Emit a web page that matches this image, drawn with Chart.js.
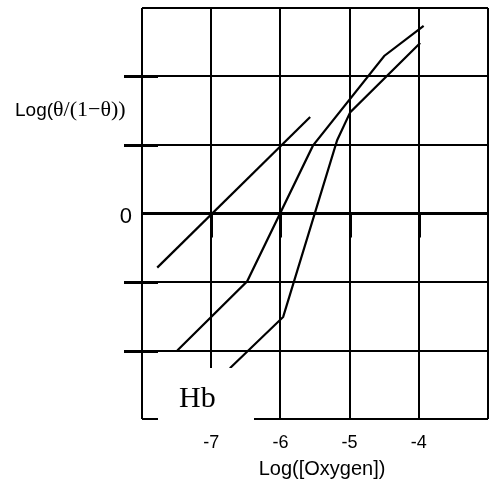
<!DOCTYPE html>
<html>
<head>
<meta charset="utf-8">
<script src="https://cdn.jsdelivr.net/npm/chart.js@4"></script>
<style>
  html, body { margin: 0; padding: 0; background: #fff; }
  #wrap { width: 493px; height: 484px; }
</style>
</head>
<body>
<div id="wrap"><canvas id="hill"></canvas></div>
<script>
// ---- data ----
const xTicks = [-7, -6, -5, -4];
const yTicks = [0];
const yStubs = [-2, -1, 1, 2];

const lineAx = [-7.78, -5.57];
const lineAy = [-0.79, 1.41];

const lineBx = [-7.49, -6.48, -5.53, -4.5, -3.93];
const lineBy = [-2.0, -0.99, 0.99, 2.3, 2.74];

const lineCx = [-6.73, -5.96, -5.18, -4.99, -3.98];
const lineCy = [-2.26, -1.51, 1.07, 1.48, 2.49];

const xTitle = 'Log([Oxygen])';
const yTitleSans = 'Log(';
const yTitleSerif = 'θ/(1−θ))';
const boxLabel = 'Hb';

const SANS = '"Liberation Sans", Arial, sans-serif';
const SERIF = '"Liberation Serif", "Times New Roman", serif';

function pts(xs, ys) {
    return xs.map((x, i) => ({ x: x, y: ys[i] }));
}

function lineSet(xs, ys) {
    return {
        data: pts(xs, ys),
        borderColor: '#000',
        borderWidth: 2.2,
        pointRadius: 0,
        tension: 0,
        fill: false
    };
}

// no extra padding for the (mostly empty) tick labels
function noPad(s) {
    s.paddingTop = 0;
    s.paddingBottom = 0;
    s.paddingLeft = 0;
    s.paddingRight = 0;
}

// extra bits of the drawing: tick stubs, the Hb box and axis titles
const decor = {
    id: 'decor',
    afterDatasetsDraw(chart) {
        const { ctx, scales: { x, y } } = chart;
        ctx.save();
        ctx.strokeStyle = '#000';
        ctx.lineWidth = 3;
        ctx.beginPath();
        yStubs.forEach(v => {
            const py = Math.round(y.getPixelForValue(v)) + 0.5;
            ctx.moveTo(124, py);
            ctx.lineTo(158, py);
        });
        const y0 = y.getPixelForValue(0);
        xTicks.forEach(v => {
            const px = Math.round(x.getPixelForValue(v)) + 0.5;
            ctx.moveTo(px, y0);
            ctx.lineTo(px, y0 + 24);
        });
        ctx.stroke();

        ctx.fillStyle = '#fff';
        ctx.fillRect(158, 368, 96, 56);
        ctx.fillStyle = '#000';
        ctx.textBaseline = 'alphabetic';
        ctx.textAlign = 'left';
        ctx.font = '30px ' + SERIF;
        ctx.fillText(boxLabel, 179, 407);

        ctx.textAlign = 'center';
        ctx.font = '20px ' + SANS;
        ctx.fillText(xTitle, 322, 475);

        ctx.textAlign = 'left';
        ctx.font = '19px ' + SANS;
        ctx.fillText(yTitleSans, 15, 116);
        const w = ctx.measureText(yTitleSans).width;
        ctx.font = '22px ' + SERIF;
        ctx.fillText(yTitleSerif, 15 + w, 116);
        ctx.restore();
    }
};

new Chart(document.getElementById('hill'), {
    type: 'line',
    data: {
        datasets: [
            lineSet(lineAx, lineAy),
            lineSet(lineBx, lineBy),
            lineSet(lineCx, lineCy)
        ]
    },
    options: {
        responsive: true,
        maintainAspectRatio: false,
        animation: false,
        layout: { padding: { top: 8, right: 5, left: 0, bottom: 0 } },
        plugins: {
            legend: { display: false },
            tooltip: { enabled: false }
        },
        scales: {
            x: {
                type: 'linear',
                min: -8,
                max: -3,
                afterFit: s => { s.height = 65; noPad(s); },
                border: { display: false },
                grid: { color: '#000', lineWidth: 2, drawTicks: false },
                ticks: {
                    stepSize: 1,
                    padding: 13,
                    color: '#000',
                    font: { family: SANS, size: 18 },
                    callback: v => xTicks.includes(v) ? String(v) : ''
                }
            },
            y: {
                type: 'linear',
                min: -3,
                max: 3,
                afterFit: s => { s.width = 142; noPad(s); },
                border: { display: false },
                grid: {
                    color: '#000',
                    lineWidth: c => (c.tick && c.tick.value === 0) ? 3 : 2,
                    drawTicks: false
                },
                ticks: {
                    stepSize: 1,
                    padding: 10,
                    labelOffset: 3,
                    color: '#000',
                    font: { family: SANS, size: 22 },
                    callback: v => yTicks.includes(v) ? String(v) : ''
                }
            }
        }
    },
    plugins: [decor]
});
</script>
</body>
</html>
